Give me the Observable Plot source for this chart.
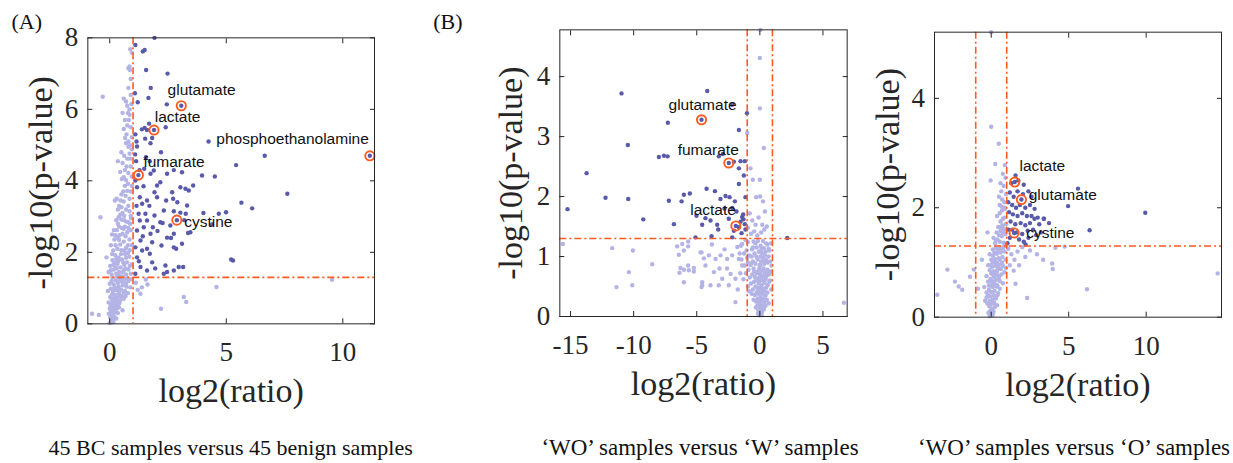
<!DOCTYPE html>
<html><head><meta charset="utf-8">
<script src="https://cdn.jsdelivr.net/npm/d3@7"></script>
<script src="https://cdn.jsdelivr.net/npm/@observablehq/plot@0.6"></script>
<style>
html,body{margin:0;padding:0;background:#fff;}
body{width:1233px;height:463px;overflow:hidden;position:relative;}
.panel{position:absolute;top:0;}
.panel svg{max-width:none;}
#overlay{position:absolute;left:0;top:0;pointer-events:none;}
</style></head><body>
<div id="pA" class="panel" style="left:0px;width:400px"></div>
<div id="pB" class="panel" style="left:420px;width:440px"></div>
<div id="pC" class="panel" style="left:860px;width:373px"></div>
<script>
// ---------------- data ----------------
const pThreshold = 1.30;            // -log10(0.05)
const A_foldLines = [1];
const B_foldLines = [-1, 1];
const C_foldLines = [-1, 1];

const A_xTicks = [0, 5, 10];
const A_yTicks = [0, 2, 4, 6, 8];
const B_xTicks = [-15, -10, -5, 0, 5];
const B_yTicks = [0, 1, 2, 3, 4];
const C_xTicks = [0, 5, 10];
const C_yTicks = [0, 2, 4];

const A_highlight = [
  {name: "glutamate", x: 3.07, y: 6.10},
  {name: "lactate", x: 1.90, y: 5.42},
  {name: "phosphoethanolamine", x: 11.16, y: 4.70},
  {name: "fumarate", x: 1.23, y: 4.16},
  {name: "cystine", x: 2.88, y: 2.90}
];
const B_highlight = [
  {name: "glutamate", x: -4.62, y: 3.28},
  {name: "fumarate", x: -2.46, y: 2.56},
  {name: "lactate", x: -1.90, y: 1.51}
];
const C_highlight = [
  {name: "lactate", x: 1.52, y: 2.47},
  {name: "glutamate", x: 1.95, y: 2.15},
  {name: "cystine", x: 1.48, y: 1.54}
];

const A_dark = [
[1.10,7.80],[1.42,7.62],[1.50,7.66],[1.92,8.00],[1.56,7.10],[2.48,7.00],[1.08,6.45],[1.76,6.60],[1.66,6.32],[2.45,6.14],[1.20,6.20],
[1.69,5.60],[1.50,5.48],[1.60,5.42],[2.40,5.50],[1.38,5.44],[1.52,5.18],[1.82,5.20],[1.15,5.10],[1.75,5.05],[1.10,5.30],[4.24,5.10],
[1.09,4.74],[1.17,4.96],[1.55,4.66],[2.20,4.80],[1.13,4.55],[1.72,4.55],[1.89,4.29],[1.75,4.20],[1.48,4.34],[1.10,4.01],[2.46,4.20],[3.10,4.24],[2.17,3.96],[2.03,3.87],[1.28,4.30],[2.75,4.30],
[3.96,4.15],[4.51,4.12],[5.42,4.44],[6.65,4.70],[5.65,3.39],[6.11,3.23],[7.62,3.64],[4.02,3.10],[4.68,3.08],[4.99,3.12],[4.39,2.78],[5.21,1.80],[5.29,1.77],
[2.68,3.68],[2.72,3.50],[3.03,3.82],[3.25,3.78],[3.39,3.73],[3.58,3.87],[3.32,3.31],[2.42,3.45],[2.32,3.17],[2.75,3.15],[3.03,3.11],[3.26,3.08],[3.36,2.54],[3.46,2.56],[2.75,2.52],[2.46,2.41],[2.17,2.84],[2.27,2.82],[1.92,3.03],[2.03,3.54],[1.92,3.68],[1.60,3.45],[1.53,3.08],[1.60,2.89],[1.46,2.70],[1.75,2.52],[1.82,2.28],[1.60,2.10],[1.39,2.05],[1.17,1.86],[1.32,1.59],[1.10,1.40],[1.72,1.96],[1.82,1.72],[1.60,1.49],[2.63,2.40],[2.75,2.14],[2.85,2.10],[3.10,2.24],[2.22,2.19],[2.39,1.63],[2.46,1.45],[2.75,1.49],[2.96,1.59],[3.15,1.59],[2.32,1.40],[1.17,3.82],[1.29,3.54],[1.39,3.36],[1.24,3.08],[1.29,2.89],[1.17,2.61],[1.32,2.33],[1.10,2.14],[1.45,3.85],[1.70,3.30],[1.85,2.70],[2.05,2.60],[1.15,3.30],[1.42,2.45],[1.95,1.55],[1.25,1.75],[2.60,2.75],[3.20,2.90],[2.90,3.40]
];
const A_light = [
[0.00,0.02],[0.05,0.08],[0.10,0.04],[0.15,0.12],[0.02,0.18],[0.08,0.22],[0.13,0.28],[0.20,0.20],[0.25,0.32],[0.18,0.38],[0.06,0.35],[0.00,0.42],[0.11,0.46],[0.22,0.48],[0.30,0.42],[0.28,0.15],[-0.04,0.28],[0.16,0.05],[0.35,0.30],[0.40,0.46],[-0.76,0.28],[-0.47,0.25],[0.55,0.38],
[-0.05,0.60],[0.05,0.55],[0.12,0.65],[0.20,0.58],[0.28,0.62],[0.35,0.55],[0.45,0.66],[0.02,0.75],[0.10,0.82],[0.18,0.72],[0.25,0.80],[0.33,0.74],[0.40,0.85],[0.52,0.78],[0.60,0.70],[-0.08,0.92],[0.05,0.98],[0.14,0.90],[0.22,1.02],[0.30,0.94],[0.38,1.05],[0.48,0.96],[0.56,1.08],[0.65,0.92],[0.72,1.04],[0.00,1.12],[0.08,1.20],[0.17,1.10],[0.26,1.22],[0.35,1.15],[0.44,1.25],[0.52,1.18],[0.62,1.24],[0.70,1.14],[0.80,1.20],[0.88,1.02],[0.78,0.86],[0.92,1.25],[1.12,1.15],[1.32,0.84],[1.20,0.95],[1.38,1.02],[1.55,1.24],[1.62,1.10],[2.20,0.42],[3.18,0.75],[3.28,0.61],[4.58,1.03],[9.54,1.23],
[-0.14,1.86],[-0.05,1.45],[0.02,1.62],[0.08,1.38],[0.12,1.78],[0.18,1.52],[0.24,1.92],[0.28,1.40],[0.33,1.68],[0.38,1.85],[0.42,1.35],[0.46,1.58],[0.52,1.80],[0.56,1.44],[0.62,1.65],[0.66,1.95],[0.70,1.38],[0.74,1.72],[0.80,1.52],[0.84,1.88],[0.90,1.40],[0.94,1.66],[0.20,1.70],[0.48,1.95],[0.30,1.55],[0.60,1.50],[0.78,1.98],[0.10,1.95],
[0.10,2.50],[0.18,2.62],[0.28,2.90],[0.34,2.40],[0.40,2.72],[0.45,2.22],[0.50,2.92],[0.55,2.52],[0.60,2.30],[0.65,2.72],[0.70,2.12],[0.75,2.56],[0.80,2.84],[0.85,2.36],[0.90,2.62],[0.95,2.20],[0.25,2.20],[0.15,2.05],[0.50,2.06],[0.38,2.98],[0.70,2.86],[0.86,2.06],[-0.40,2.98],[0.30,2.62],[0.60,2.66],[0.20,2.36],[0.92,2.95],[0.42,2.48],
[0.30,3.50],[0.40,3.30],[0.50,3.62],[0.60,3.42],[0.70,3.20],[0.75,3.72],[0.85,3.50],[0.90,3.02],[0.95,3.86],[0.55,3.10],[0.65,3.86],[0.45,3.05],[0.80,3.30],[0.35,3.20],[0.62,3.02],[0.22,3.45],[0.90,3.70],[0.50,3.26],[0.68,3.58],[0.85,3.15],
[0.35,4.55],[0.50,4.80],[0.55,4.50],[0.65,4.30],[0.75,4.62],[0.85,4.76],[0.90,4.40],[0.60,4.10],[0.70,4.02],[0.80,4.22],[0.95,4.12],[0.45,4.25],[0.88,4.62],[0.52,4.05],[0.95,4.88],
[0.55,5.90],[0.65,5.70],[0.75,5.55],[0.85,5.85],[0.60,5.45],[0.72,5.30],[0.80,5.10],[0.90,5.50],[0.95,5.22],[0.70,5.05],[0.88,5.00],[0.82,5.70],
[0.60,6.30],[0.75,6.10],[0.90,6.40],[0.85,6.00],[0.80,6.60],[-0.30,6.35],[0.70,6.22],[0.93,6.15],[0.88,7.68],[0.85,7.20],[0.80,7.15],[0.87,7.10],[0.95,7.58],[0.90,6.85],
[0.03,0.50],[0.15,0.55],[0.25,0.52],[0.42,0.58],[0.08,0.70],[0.30,0.70],[0.45,0.78],[0.60,0.88],[0.18,0.98],[0.42,0.95],[0.68,0.78],[0.12,1.30],[0.32,1.32],[0.55,1.32],[0.75,1.28],[0.05,1.50],[0.25,1.58],[0.40,1.45],[0.68,1.55],[0.86,1.62],[0.15,1.65],[0.36,1.75],[0.58,1.72],[0.28,1.82],[0.70,1.85],[0.05,2.20],[0.33,2.10],[0.62,2.05],[0.78,2.20],[0.40,2.35],[0.68,2.45],[0.24,2.48],[0.52,2.68],[0.80,2.68],[0.35,2.80],[0.62,2.90],[0.88,2.80],[0.46,3.45],[0.58,3.70],[0.78,3.92],[0.72,4.40],[0.62,4.70],[0.80,4.95],[0.66,5.20],[0.78,5.90]
];

const B_dark = [
[-10.96,3.72],[-4.17,3.76],[-2.19,3.53],[-7.29,3.23],[-1.02,3.39],[-1.66,3.11],[-10.46,2.86],[-8.00,2.66],[-7.60,2.68],[-7.31,2.67],[-3.25,2.67],[-2.93,2.71],[-2.06,2.58],[-1.53,2.59],[-1.19,2.59],[-1.66,2.47],[-1.27,2.35],[-13.73,2.39],[-1.66,2.21],[-12.23,1.98],[-10.43,1.96],[-7.21,1.93],[-6.02,2.03],[-5.55,2.05],[-4.22,2.13],[-3.56,2.09],[-2.72,2.01],[-2.40,1.99],[-3.12,1.96],[-1.98,1.92],[-2.19,1.81],[-1.14,1.99],[-6.20,1.92],[-4.31,1.64],[-3.91,1.60],[-2.46,1.63],[-1.40,1.66],[-1.53,1.58],[-1.19,1.54],[-1.66,1.49],[-2.06,1.43],[-1.45,1.39],[-4.57,1.53],[-3.38,1.53],[-3.30,1.45],[-3.83,1.34],[-2.19,1.32],[-15.24,1.79],[-9.24,1.62],[-6.81,1.54],[-5.02,1.68],[-5.10,1.32],[2.17,1.31],[-1.32,1.70],[-1.14,1.45],[-2.80,1.80],[-1.85,1.75],[-1.30,1.62]
];
const B_light = [
[0.05,4.78],[0.00,4.31],[0.00,3.47],[-1.00,3.06],[0.32,2.81],[-0.74,2.47],[-0.56,2.28],[0.00,2.28],[0.40,1.75],[-0.29,1.99],[-0.34,1.53],[0.19,1.53],[-0.60,1.60],[-0.80,1.72],[-0.45,1.42],[0.10,1.40],[0.35,1.45],[0.55,1.50],[-0.20,1.35],[-0.70,1.38],[-0.95,1.48],[0.02,2.00],[0.25,1.92],[-0.10,1.65],
[-15.61,1.21],[-11.70,1.14],[-10.06,1.10],[-8.53,0.87],[-10.38,0.74],[-11.36,0.49],[-10.11,0.52],[-6.55,1.17],[-6.15,1.21],[-5.68,1.25],[-6.02,1.10],[-6.42,1.03],[-5.68,1.17],[-6.29,0.81],[-6.02,0.78],[-5.68,0.85],[-5.63,0.77],[-5.23,0.81],[-5.23,0.75],[-6.37,0.73],[-4.62,1.07],[-4.44,0.97],[-6.02,0.57],[-4.57,0.57],[-4.62,0.49],[-4.70,1.07],[-4.04,1.02],[-3.51,0.96],[-3.12,1.02],[-4.31,0.85],[-3.64,0.74],[-2.98,0.63],[-2.59,0.96],[-2.32,0.71],[-4.57,0.52],[-3.91,0.52],[-3.25,0.52],[-2.46,0.52],[-1.93,0.63],[-1.66,0.96],[-1.40,0.85],[-1.93,0.24],[-2.19,1.02],[-1.79,1.16],[-1.40,1.21],[6.66,0.23],[-3.80,1.20],[-2.80,1.12],[-3.20,0.80],[-2.60,0.80],[-1.75,0.45],[-1.55,0.72],[-1.60,1.05],
[-0.05,0.02],[0.05,0.05],[0.10,0.12],[-0.12,0.10],[0.00,0.15],[0.18,0.08],[-0.20,0.18],[0.25,0.18],[0.08,0.20],[-0.08,0.22],
[-0.30,0.25],[-0.18,0.30],[-0.05,0.28],[0.06,0.32],[0.15,0.26],[0.28,0.30],[0.38,0.24],[-0.40,0.36],[-0.10,0.38],[0.02,0.40],[0.20,0.38],[0.45,0.35],[-0.25,0.40],[0.55,0.28],[0.70,0.22],
[-0.55,0.45],[-0.35,0.50],[-0.20,0.48],[-0.08,0.55],[0.05,0.48],[0.15,0.52],[0.28,0.46],[0.38,0.56],[0.50,0.48],[0.62,0.52],[-0.70,0.55],[-0.45,0.58],[0.00,0.60],[0.22,0.60],[0.75,0.58],[-0.95,0.50],[0.90,0.45],
[-0.80,0.65],[-0.60,0.70],[-0.40,0.66],[-0.25,0.72],[-0.12,0.64],[0.02,0.70],[0.12,0.76],[0.25,0.68],[0.36,0.74],[0.48,0.66],[0.60,0.78],[0.72,0.70],[-1.10,0.72],[-0.90,0.78],[-0.50,0.80],[0.85,0.75],[-0.05,0.80],[0.30,0.80],[-1.30,0.62],
[-1.20,0.85],[-0.95,0.90],[-0.75,0.86],[-0.55,0.92],[-0.35,0.88],[-0.18,0.95],[-0.02,0.86],[0.10,0.92],[0.22,0.98],[0.35,0.88],[0.48,0.95],[0.62,0.90],[0.80,0.92],[-1.45,0.95],[-0.65,1.00],[0.05,1.00],[0.92,0.85],
[-1.25,1.05],[-1.05,1.10],[-0.85,1.02],[-0.62,1.12],[-0.42,1.05],[-0.25,1.15],[-0.08,1.08],[0.06,1.18],[0.18,1.06],[0.32,1.14],[0.46,1.08],[0.60,1.20],[0.75,1.10],[-1.50,1.18],[-0.95,1.24],[-0.50,1.25],[-0.15,1.26],[0.25,1.26],[0.88,1.22],[0.70,1.13],[-1.15,1.28],
[-0.15,0.05],[0.15,0.02],[0.32,0.12],[-0.32,0.15],[0.45,0.18],[-0.50,0.28],[0.60,0.40],[-0.65,0.38],[0.12,0.45],[-0.15,0.42],[0.35,0.42],[-0.85,0.42],[0.80,0.60],[-0.30,0.60],[0.45,0.62],[-0.15,0.75],[0.15,0.66],[-0.70,0.88],[0.55,0.72],[-0.45,0.75],[0.05,0.85],[0.28,0.92],[-0.28,1.00],[0.40,1.02],[-1.00,0.98],[0.70,1.00],[-0.55,1.15],[0.12,1.12],[-0.35,1.22],[0.50,1.22]
];

const C_dark = [
[9.94,1.91],[4.96,2.03],[6.35,1.59],[5.60,2.35],[3.39,1.80],[2.79,1.80],
[1.57,2.59],[1.30,2.45],[1.75,2.50],[2.10,2.42],[2.40,2.30],[1.20,2.28],[1.45,2.20],[1.70,2.30],[2.05,2.25],[2.60,2.20],[1.10,2.10],[1.35,2.05],[1.60,2.00],[1.85,2.05],[2.20,2.00],[2.50,2.05],[2.80,1.98],[1.15,1.92],[1.40,1.88],[1.70,1.85],[2.00,1.90],[2.30,1.85],[2.60,1.85],[3.00,1.82],[3.40,1.80],[1.25,1.75],[1.55,1.70],[1.90,1.72],[2.20,1.68],[2.50,1.72],[3.10,1.70],[3.73,1.72],[1.10,1.60],[1.35,1.60],[1.65,1.55],[2.00,1.52],[2.35,1.58],[2.70,1.60],[1.20,1.45],[1.80,1.42],[2.10,1.38],[2.40,1.45],[2.22,1.33],[2.90,1.50],[1.05,1.35],[3.20,1.55]
];
const C_light = [
[-3.48,0.41],[-2.83,0.87],[-2.34,0.65],[-1.87,0.50],[-1.37,0.74],[-1.12,0.87],[-0.86,0.52],[-2.10,0.56],[-0.24,1.55],[0.00,5.21],[0.00,3.48],[0.49,3.17],[0.26,2.80],[-0.04,2.50],[2.32,0.35],[6.18,0.51],[14.61,0.80],[3.93,0.98],[3.97,0.88],[3.35,1.05],[4.14,1.27],[4.74,1.29],[2.95,1.15],[2.50,1.22],[2.20,1.10],[1.70,1.20],[1.50,1.05],[1.30,1.15],[1.20,0.95],[1.45,0.85],[1.80,0.95],[1.10,1.25],[1.57,0.61],[2.00,1.28],[-0.60,1.05],
[-0.10,0.02],[0.00,0.06],[0.10,0.04],[-0.05,0.12],[0.05,0.15],[0.15,0.10],[-0.18,0.08],[0.22,0.18],[-0.12,0.20],
[-0.25,0.25],[-0.10,0.30],[0.00,0.24],[0.10,0.32],[0.20,0.26],[0.30,0.34],[-0.30,0.36],[-0.05,0.38],[0.15,0.40],[0.38,0.22],[-0.40,0.30],
[-0.30,0.45],[-0.15,0.50],[0.00,0.46],[0.10,0.55],[0.22,0.48],[0.34,0.56],[0.45,0.44],[-0.05,0.58],[0.28,0.60],[0.55,0.52],[-0.45,0.55],
[-0.20,0.65],[-0.05,0.70],[0.08,0.64],[0.18,0.74],[0.30,0.68],[0.42,0.76],[0.55,0.66],[0.65,0.78],[0.00,0.80],[0.25,0.80],[-0.30,0.75],[0.75,0.62],
[-0.10,0.86],[0.05,0.92],[0.15,0.84],[0.28,0.94],[0.38,0.86],[0.50,0.96],[0.62,0.88],[0.75,0.94],[0.85,0.82],[0.20,1.00],[-0.20,0.95],[0.95,0.90],
[0.00,1.05],[0.12,1.12],[0.25,1.06],[0.36,1.16],[0.48,1.08],[0.60,1.18],[0.72,1.10],[0.85,1.20],[0.92,1.05],[0.30,1.26],[0.55,1.28],[0.10,1.24],[0.78,1.28],[-0.10,1.15],
[0.25,1.35],[0.40,1.42],[0.55,1.38],[0.68,1.48],[0.80,1.36],[0.92,1.52],[0.35,1.55],[0.60,1.58],[0.85,1.60],[0.15,1.45],
[0.45,1.65],[0.60,1.75],[0.72,1.68],[0.85,1.82],[0.95,1.70],[0.55,1.90],[0.70,1.95],[0.90,1.98],[0.38,1.85],[0.80,1.62],
[0.55,2.05],[0.70,2.15],[0.85,2.10],[0.95,2.25],[0.65,2.30],[0.80,2.40],[0.92,2.55],[0.75,2.62],[0.88,2.78],[0.60,2.45],[0.50,2.20],
[0.05,0.28],[0.25,0.38],[-0.20,0.40],[0.40,0.40],[0.05,0.66],[0.40,0.58],[-0.15,0.58],[0.15,0.62],[0.50,0.72],[0.10,0.78],[0.35,0.82],[-0.05,0.95],[0.45,0.92],[0.70,1.00],[0.10,1.00],[0.35,1.00],[0.55,1.05],[0.20,1.18],[0.45,1.22],[0.65,1.25],[0.90,1.30],[0.50,1.50],[0.75,1.55],[0.30,1.40],[0.60,1.65],[0.75,1.80],[0.85,2.00],[0.68,2.02]
];

const xLabel = "log2(ratio)";
const yLabel = "-log10(p-value)";
const captions = [
  "45 BC samples versus 45 benign samples",
  "\u2018WO\u2019 samples versus \u2018W\u2019 samples",
  "\u2018WO\u2019 samples versus \u2018O\u2019 samples"
];
const panelTags = ["(A)", "(B)"];

// ---------------- style ----------------
const ORANGE = "#ff5a1f", LIGHT = "#b3b3e6", DARK = "#5a5aab", AX = "#262626";
const SERIF = "Liberation Serif";
const SANS = "Liberation Sans";
const DASH = "7,3,2,3";

function panel(cfg) {
  const P = d => d[0], Q = d => d[1];
  const labelMarks = cfg.hi.map(h => {
    const s = cfg.labelPos[h.name];
    return Plot.text([h], {x: "x", y: "y", text: "name", dx: s.dx, dy: s.dy,
      textAnchor: s.anchor, lineAnchor: "bottom", fontSize: 15.5, fontFamily: SANS, fill: "#111"});
  });
  return Plot.plot({
    width: cfg.width, height: 463,
    marginLeft: cfg.ml, marginRight: cfg.mr, marginTop: cfg.mt, marginBottom: cfg.mb,
    style: {overflow: "visible", background: "transparent"},
    x: {domain: cfg.xDomain},
    y: {domain: cfg.yDomain},
    marks: [
      Plot.dot(cfg.light, {x: P, y: Q, r: 2.2, fill: LIGHT}),
      Plot.dot(cfg.dark, {x: P, y: Q, r: 2.2, fill: DARK}),
      Plot.dot(cfg.hi, {x: "x", y: "y", r: 2.2, fill: DARK}),
      Plot.ruleY([pThreshold], {stroke: ORANGE, strokeWidth: 1.6, strokeDasharray: DASH}),
      Plot.ruleX(cfg.vLines, {x: d => d, stroke: ORANGE, strokeWidth: 1.6, strokeDasharray: DASH}),
      Plot.dot(cfg.hi, {x: "x", y: "y", r: 4.6, stroke: ORANGE, strokeWidth: 1.9, fill: "none"}),
      ...labelMarks,
      Plot.frame({stroke: AX, strokeWidth: 1}),
      Plot.axisX({anchor: "bottom", ticks: cfg.xTicks, tickSize: 5, dy: -5, fill: "none", stroke: AX, label: null}),
      Plot.axisX({anchor: "top", ticks: cfg.xTicks, tickSize: 5, dy: 5, fill: "none", stroke: AX, label: null}),
      Plot.axisY({anchor: "left", ticks: cfg.yTicks, tickSize: 5, dx: 5, fill: "none", stroke: AX, label: null}),
      Plot.axisY({anchor: "right", ticks: cfg.yTicks, tickSize: 5, dx: -5, fill: "none", stroke: AX, label: null}),
      Plot.text(cfg.xTicks, {x: d => d, text: d => String(d), frameAnchor: "bottom", dy: 37.5,
        lineAnchor: "bottom", fontSize: 27, fontFamily: SERIF, fill: AX}),
      Plot.text(cfg.yTicks, {y: d => d, text: d => String(d), frameAnchor: "left", dx: -9.5,
        textAnchor: "end", lineAnchor: "middle", fontSize: 27, fontFamily: SERIF, fill: AX}),
      Plot.text([xLabel], {x: null, y: null, text: d => d, frameAnchor: "bottom", dy: 78.4,
        lineAnchor: "bottom", fontSize: 34, fontFamily: SERIF, fill: AX}),
      Plot.text([yLabel], {x: null, y: null, text: d => d, frameAnchor: "left", rotate: -90,
        dx: cfg.yLabelDx, dy: cfg.yLabelDy, textAnchor: "middle", lineAnchor: "bottom",
        fontSize: 34, fontFamily: SERIF, fill: AX})
    ]
  });
}

document.getElementById("pA").append(panel({
  light: A_light, dark: A_dark, hi: A_highlight, vLines: A_foldLines,
  xDomain: [-0.94, 11.36], yDomain: [0, 8], xTicks: A_xTicks, yTicks: A_yTicks,
  width: 400, ml: 87.33, mr: 26, mt: 37.33, mb: 139.67, yLabelDx: -35.5, yLabelDy: 2,
  labelPos: {
    glutamate: {dx: -13.7, dy: -10.3, anchor: "start"},
    lactate: {dx: 0.7, dy: -8, anchor: "start"},
    fumarate: {dx: 5, dy: -8, anchor: "start"},
    cystine: {dx: 7.3, dy: 6.5, anchor: "start"},
    phosphoethanolamine: {dx: -1, dy: -12.3, anchor: "end"}
  }
}));
document.getElementById("pB").append(panel({
  light: B_light, dark: B_dark, hi: B_highlight, vLines: B_foldLines,
  xDomain: [-15.85, 6.92], yDomain: [0, 4.78], xTicks: B_xTicks, yTicks: B_yTicks,
  width: 440, ml: 139.33, mr: 13.33, mt: 29.33, mb: 147, yLabelDx: -37.8, yLabelDy: 0,
  labelPos: {
    glutamate: {dx: 1, dy: -10, anchor: "middle"},
    fumarate: {dx: 10, dy: -7.7, anchor: "end"},
    lactate: {dx: 0, dy: -11, anchor: "end"}
  }
}));
document.getElementById("pC").append(panel({
  light: C_light, dark: C_dark, hi: C_highlight, vLines: C_foldLines,
  xDomain: [-3.66, 14.86], yDomain: [0, 5.21], xTicks: C_xTicks, yTicks: C_yTicks,
  width: 373, ml: 74, mr: 12, mt: 31.67, mb: 146.33, yLabelDx: -35.5, yLabelDy: 0,
  labelPos: {
    lactate: {dx: 4.7, dy: -11, anchor: "start"},
    glutamate: {dx: 7.3, dy: 0.5, anchor: "start"},
    cystine: {dx: 12, dy: 5, anchor: "start"}
  }
}));

// captions and panel tags
const ov = d3.select("body").append("svg").attr("id", "overlay")
  .attr("width", 1233).attr("height", 463);
const capX = [230.7, 700, 1074];
const capSize = [22, 23, 23];
ov.selectAll("text.cap").data(captions).join("text").attr("class", "cap")
  .attr("x", (d, i) => capX[i]).attr("y", 455).attr("text-anchor", "middle")
  .attr("font-family", "Liberation Serif").attr("font-size", (d, i) => capSize[i]).attr("fill", "#111").text(d => d);
const tagX = [11.5, 433.3];
ov.selectAll("text.tag").data(panelTags).join("text").attr("class", "tag")
  .attr("x", (d, i) => tagX[i]).attr("y", 29).attr("font-family", "Liberation Serif")
  .attr("font-size", 22).attr("fill", "#111").text(d => d);
</script>
</body></html>
